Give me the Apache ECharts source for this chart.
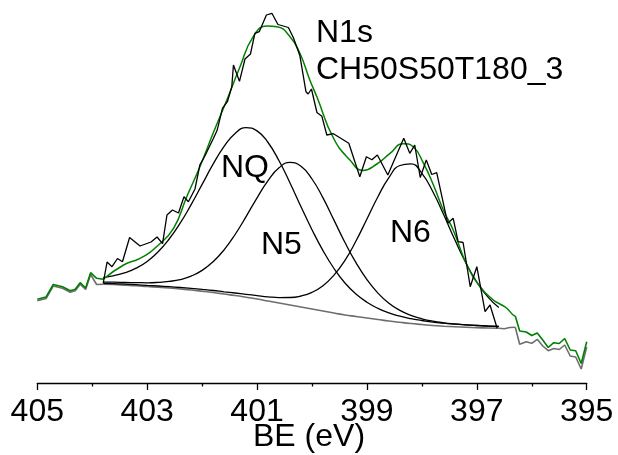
<!DOCTYPE html>
<html>
<head>
<meta charset="utf-8">
<script src="https://cdn.jsdelivr.net/npm/echarts@6/dist/echarts.min.js"></script>
<style>
html,body{margin:0;padding:0;background:#fff;}
#chart{width:618px;height:455px;}
</style>
</head>
<body>
<div id="chart"></div>
<script>
// ---- data (binding energy in eV, intensity in arbitrary units) ----
const xTicks = [405, 403, 401, 399, 397, 395];
const xTitle = 'BE (eV)';

// fit grid for background and components
const gridBE = [403.8,403.6,403.4,403.2,403.0,402.8,402.6,402.4,402.2,402.0,401.8,401.6,401.4,401.2,401.0,400.8,400.6,400.4,400.2,400.0,399.8,399.6,399.4,399.2,399.0,398.8,398.6,398.4,398.2,398.0,397.8,397.6,397.4,397.2,397.0,396.8,396.6];
const bgVals = [98.8,98.5,97.9,97.3,96.5,95.8,95,94,93,91.8,90.5,89,87.5,85.8,84,82,80,78,76,74,72,70,68,66.5,65,63.5,62,60.7,59.5,58.5,57.5,56.8,56.2,55.7,55.3,55,54.8];
const nqVals = [105.4,107.4,110.3,114.9,121.6,131.2,144.0,159.8,178.4,198.6,218.8,236.6,249.6,255.3,252.1,240.5,222.2,200.0,176.3,153.3,132.4,114.5,100.0,89.0,80.8,74.7,70.1,66.8,64.3,62.5,60.9,59.8,58.8,58.1,57.5,57.0,56.6];
const n5Vals = [100.8,100.8,100.5,100.4,100.2,100.6,101.6,103.4,106.9,112.6,121.3,133.2,148.5,166.4,185.2,202.4,215.2,220.6,216.7,204.0,185.1,162.9,140.5,120.4,103.4,89.9,79.7,72.6,67.6,64.2,61.8,60.2,59.1,58.2,57.5,56.9,56.5];
const n6Vals = [99.6,99.4,98.9,98.3,97.6,97.0,96.3,95.5,94.6,93.6,92.5,91.2,90.0,88.7,87.4,86.2,85.4,85.5,87.0,90.7,97.3,107.9,122.6,142.0,164.0,186.3,205.4,217.5,219.1,209.7,191.2,167.9,143.2,120.3,101.0,86.1,75.4];

// envelope (green) inside the fit region
const envBE = [403.80,403.43,403.13,402.83,402.52,402.28,402.04,401.80,401.55,401.31,401.07,400.82,400.64,400.40,400.22,400.04,399.91,399.61,399.31,399.07,398.82,398.58,398.34,398.16,397.97,397.79,397.61,397.43,397.18,396.94,396.70,396.58,396.46,396.34,396.30];
const envVals = [103.7,118,124.7,136.3,154.7,186.3,216.3,249.7,283,316.3,346.3,357,356.3,346.3,329.7,303,286,245,223,212.5,219,229.7,239.3,236.3,219.7,198,173,153,118,96.3,83,79,75,68,67];

// measured spectrum inside the fit region (black)
const rawBE = [403.80,403.73,403.64,403.54,403.45,403.32,403.13,402.93,402.82,402.72,402.64,402.54,402.43,402.33,402.25,402.13,402.04,401.95,401.80,401.73,401.71,401.63,401.54,401.46,401.43,401.32,401.22,401.12,401.04,400.96,400.83,400.73,400.62,400.43,400.34,400.22,400.11,400.07,400.01,399.91,399.82,399.73,399.61,399.33,399.13,399.01,398.91,398.81,398.62,398.33,398.22,398.13,398.03,397.92,397.82,397.73,397.53,397.43,397.34,397.25,397.12,397.00,396.85,396.76,396.63];
const rawVals = [100,121,116.3,124.5,121.3,145.5,137,141,146,139.3,168,173,170,186.3,181.3,194,218.3,227,244,252.2,256.3,274.7,281.3,296.3,318,301.7,324,329,349.7,351.3,368,369.7,358.5,355.5,345.5,327.2,291.3,289,294,270.5,266.7,248,249.3,239.7,206.3,226.3,223.3,228,208,244.7,229.7,238,205.5,223,208.5,210.3,159.7,164.7,141.3,140.5,96.3,116.3,71.3,78,54.7];

// spectrum outside the fit region, high-BE and low-BE sides
const leftBE = [405.00,404.84,404.71,404.54,404.40,404.31,404.22,404.12,404.03,403.92,403.80];
const leftGreen = [83.7,86,98.5,96.3,92.3,93.7,100.3,95,110.3,104.7,103.7];
const leftGrey = [82.2,84.5,97,94.8,90.8,92.2,98.8,93.5,108.5,98.5,98.8];
const rightBE = [396.30,396.22,396.1,396.0,395.9,395.8,395.7,395.6,395.5,395.4,395.3,395.2,395.1,395.0];
const rightGreen = [67,52,51,47.5,50,43,35.5,40.3,39.5,44.5,33,32.3,19.5,41.3];
const rightGrey = [55.7,38.7,41.3,39.7,43.7,37,32.3,34.5,33.5,38,27,26,14,36];
const greyJoinBE = [396.6,396.5,396.4,396.3];
const greyJoinVals = [54.8,54.3,55.5,55.7];

// ---- build ----
const pairs = (xs, ys) => xs.map((x, i) => [x, ys[i]]);
const FONT = 'Liberation Sans, Arial, Helvetica, sans-serif';

function line(name, data, color, width, smooth, z) {
  return {
    name, type: 'line', data, showSymbol: false, symbol: 'none',
    smooth: smooth, lineStyle: { color, width }, z: z || 2,
    silent: true, animation: false
  };
}

const chart = echarts.init(document.getElementById('chart'), null, { renderer: 'canvas' });
chart.setOption({
  animation: false,
  backgroundColor: '#ffffff',
  grid: { left: 37.3, right: 31.3, top: 0, bottom: 72, containLabel: false, outerBoundsMode: 'none' },
  xAxis: {
    type: 'value', min: 395, max: 405, interval: 2, inverse: true,
    axisLine: { lineStyle: { color: '#000', width: 1.3 } },
    axisTick: { length: 7, lineStyle: { color: '#000', width: 1.3 } },
    minorTick: { show: true, splitNumber: 2, length: 3.5, lineStyle: { color: '#000', width: 1.3 } },
    splitLine: { show: false },
    axisLabel: {
      fontSize: 32, color: '#000', fontFamily: FONT, margin: 13,
      formatter: v => (xTicks.indexOf(v) >= 0 ? String(v) : '')
    }
  },
  yAxis: { type: 'value', min: 0, max: 383, show: false },
  series: [
    line('grey-left', pairs(leftBE, leftGrey), '#6e6e6e', 1.6, false, 1),
    line('background', pairs(gridBE, bgVals), '#6e6e6e', 1.6, true, 1),
    line('grey-join', pairs(greyJoinBE, greyJoinVals), '#6e6e6e', 1.6, false, 1),
    line('grey-right', pairs(rightBE, rightGrey), '#6e6e6e', 1.6, false, 1),
    line('NQ', pairs(gridBE, nqVals), '#000', 1.3, true, 3),
    line('N5', pairs(gridBE, n5Vals), '#000', 1.3, true, 3),
    line('N6', pairs(gridBE, n6Vals), '#000', 1.3, true, 3),
    line('green-left', pairs(leftBE, leftGreen), '#008000', 1.6, false, 4),
    line('envelope', pairs(envBE, envVals), '#008000', 1.5, true, 4),
    line('green-right', pairs(rightBE, rightGreen), '#008000', 1.6, false, 4),
    line('data', pairs(rawBE, rawVals), '#000', 1.3, false, 5)
  ],
  graphic: [
    { type: 'text', left: 316, top: 17, style: { text: 'N1s', font: '32px ' + FONT, fill: '#000' } },
    { type: 'text', left: 316, top: 54, style: { text: 'CH50S50T180_3', font: '32px ' + FONT, fill: '#000' } },
    { type: 'text', left: 221, top: 152, style: { text: 'NQ', font: '32px ' + FONT, fill: '#000' } },
    { type: 'text', left: 261, top: 229, style: { text: 'N5', font: '32px ' + FONT, fill: '#000' } },
    { type: 'text', left: 390, top: 217, style: { text: 'N6', font: '32px ' + FONT, fill: '#000' } },
    { type: 'text', left: 253, top: 421, style: { text: xTitle, font: '32px ' + FONT, fill: '#000' } }
  ]
});
</script>
</body>
</html>
